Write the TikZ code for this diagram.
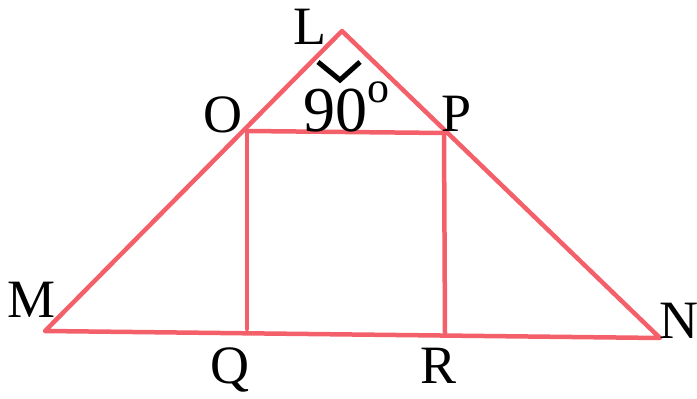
\documentclass[tikz,border=0pt]{standalone}
\usepackage{fontspec}
\setmainfont{Liberation Serif}
\usepackage{xcolor}
\usepackage{tikz}
\definecolor{penred}{RGB}{244,96,106}

\begin{document}
\begin{tikzpicture}[x=1pt,y=-1pt,
  side/.style={draw=penred, line width=4.5pt, line join=round, line cap=round},
  vlabel/.style={inner sep=0pt, font=\fontsize{54}{58}\selectfont}
]
\useasboundingbox (0,0) rectangle (697,399);
% vertices
\coordinate (L) at (342,31);
\coordinate (M) at (45,331);
\coordinate (N) at (660,338);
\coordinate (O) at (247,131);
\coordinate (P) at (444,133);
\coordinate (Q) at (247,329);
\coordinate (R) at (445,333);

% triangle and square
\draw[side] (M) -- (L) -- (N) -- cycle;
\draw[side] (O) -- (P);
\draw[side] (O) -- (Q);
\draw[side] (P) -- (R);

% right angle at L
\coordinate (a1) at (318,62);
\coordinate (a2) at (340,80);
\coordinate (a3) at (360,62);
\draw[line width=5pt] (a1) -- (a2) -- (a3);

% labels
\node[vlabel] (lL) at (310,27) {L};
\node[vlabel] (lM) at (32,300) {M};
\node[vlabel] (lN) at (679,321) {N};
\node[vlabel] (lO) at (223,115) {O};
\node[vlabel] (lP) at (457,114) {P};
\node[vlabel] (lQ) at (230,370) {Q};
\node[vlabel] (lR) at (439,366) {R};
\node[vlabel, font=\fontsize{64}{68}\selectfont] (ang) at (335,111) {90};
\node[vlabel, font=\fontsize{44}{48}\selectfont] (deg) at (378,92) {o};
\end{tikzpicture}
\end{document}
